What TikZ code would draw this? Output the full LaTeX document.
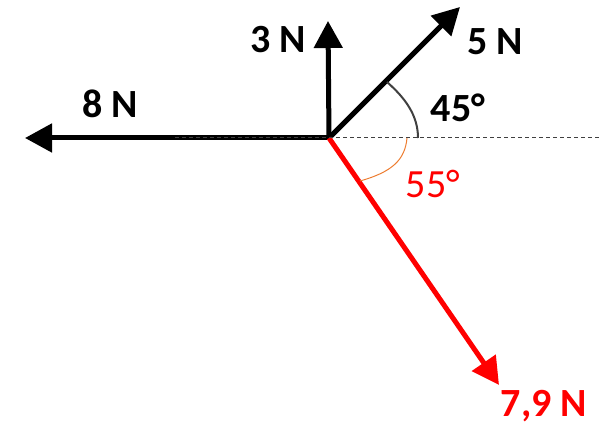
\documentclass[tikz,border=0pt]{standalone}
\usepackage{fontspec}
\setmainfont{Carlito}
\usetikzlibrary{arrows.meta}
\definecolor{arcgray}{HTML}{404040}
\definecolor{arcorange}{HTML}{ED7D31}
\begin{document}
\begin{tikzpicture}[x=1pt,y=-1pt,
  force/.style={line width=5pt,-{Triangle[length=27pt,width=28pt]}},
  lbl/.style={font=\fontsize{40}{48}\selectfont\bfseries,inner sep=0pt},
  anglbl/.style={font=\fontsize{40}{48}\selectfont,inner sep=0pt}]
\useasboundingbox (0,0) rectangle (605,427);
\coordinate (O) at (329,138);
\coordinate (T8) at (25,138);
\coordinate (T3) at (328,21);
\coordinate (T5) at (460,7);
\coordinate (T79) at (499,385);
\coordinate (DL) at (175,138);
\coordinate (DR) at (600,138);
\draw[force] (O) -- (T8);
\draw[force] (O) -- (T3);
\draw[force] (O) -- (T5);
\draw[force,red] (O) -- (T79);
\draw[arcgray,dashed,line width=1pt,dash pattern=on 4pt off 3pt] (DL) -- (DR);
\coordinate (A1) at (387,82);
\coordinate (A2) at (418,138);
\draw[arcgray,line width=2pt] (A1) .. controls (405,98) and (418,115) .. (A2);
\coordinate (B1) at (407,138);
\coordinate (B2) at (360,181);
\draw[arcorange,line width=1pt] (B1) .. controls (405,160) and (392,172) .. (B2);
\node[lbl] (L3) at (278,40) {3 N};
\node[lbl] (L8) at (110,104) {8 N};
\node[lbl] (L5) at (495,42) {5 N};
\node[lbl] (L45) at (458,108) {45°};
\node[anglbl,red] (L55) at (433,184) {55°};
\node[lbl,red] (L79) at (544,406) {7,9 N};
\end{tikzpicture}
\end{document}
